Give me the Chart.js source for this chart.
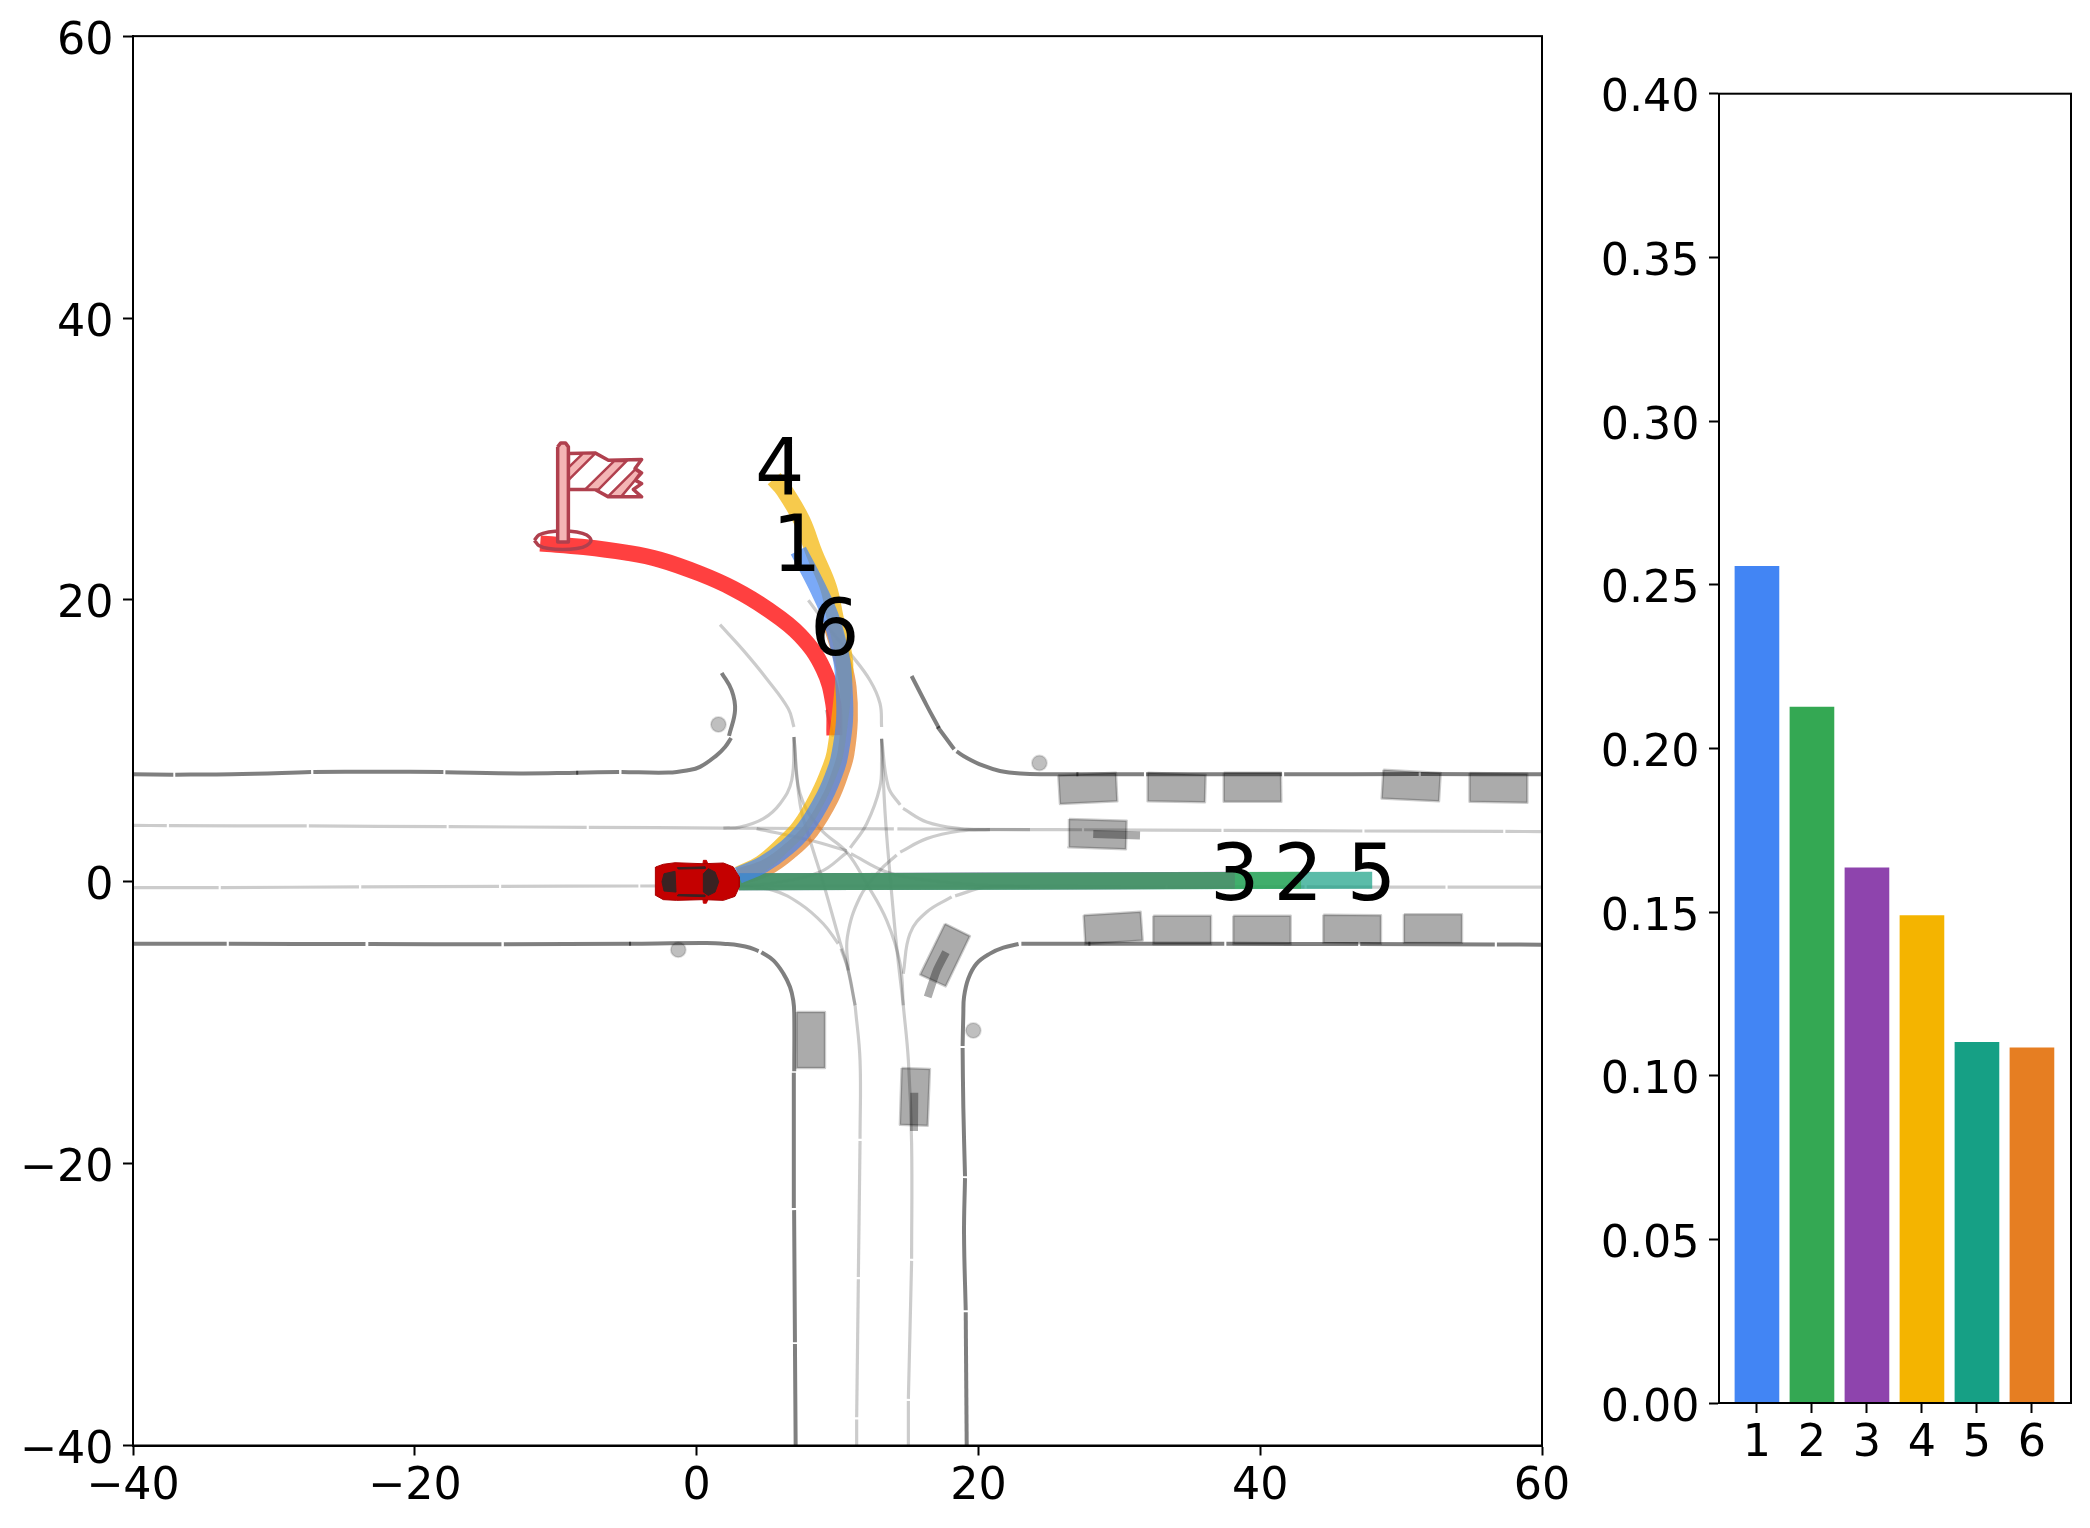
<!DOCTYPE html>
<html>
<head>
<meta charset="utf-8">
<title>Trajectory modes</title>
<script src="https://cdn.jsdelivr.net/npm/chart.js@4"></script>
<style>
    html, body { margin: 0; padding: 0; background: #fff; width: 2090px; height: 1528px; overflow: hidden; }
    canvas { position: absolute; top: 0; }
    #mapChart { left: 0; }
    #barChart { left: 1590px; }
</style>
</head>
<body>
<canvas id="mapChart" width="1590" height="1528"></canvas>
<canvas id="barChart" width="500" height="1528"></canvas>
<script>
// Bar chart values
const modeLabels = [1, 2, 3, 4, 5, 6];
const modeProbs = [0.2556, 0.2126, 0.1635, 0.1489, 0.1102, 0.1085];
const modeColors = ['#4285F4', '#34A853', '#8E44AD', '#F4B400', '#16A085', '#E67E22'];
const probTicks = [0, 0.05, 0.1, 0.15, 0.2, 0.25, 0.3, 0.35, 0.4];
const mapXTicks = [-40, -20, 0, 20, 40, 60];
const mapYTicks = [-40, -20, 0, 20, 40, 60];

// Predicted trajectories, in map units
const traj1 = [[2.96,0.45],[4.74,1.24],[6.39,2.42],[7.69,3.77],[9.11,6.13],[9.94,8.14],[10.18,9.1],[10.5,11.46],[10.46,13.8],[10.3,15.7],[9.59,18.55],[8.57,20.9],[7.22,23.5]];
const traj2 = [[3,0],[20,0.03],[42.9,0.1]];
const traj3 = [[3,0],[20,0.05],[38.2,0.1]];
const traj4 = [[3,0.5],[4.6,1.3],[6.1,2.6],[7.35,3.9],[8.75,6.3],[9.55,8.2],[9.82,9.1],[10.15,11.46],[10.4,13.8],[10.5,15.7],[9.82,18.8],[9.35,20.9],[8.36,23.28],[7.46,25.65],[6.2,27.8],[5.5,28.6]];
const traj5 = [[3,0],[20,0.03],[47.95,0.1]];
const traj6 = [[3,0.35],[4.95,1],[6.7,2.25],[8.1,3.65],[9.5,5.95],[10.3,8],[10.6,9.1],[10.84,11.46],[10.75,13.8],[10.35,15.7],[9.5,18.5]];
const groundTruth = [[-11.1,24],[-8,23.75],[-5,23.35],[-2.6,22.85],[0.24,21.86],[2.6,20.8],[4.97,19.38],[7.34,17.49],[8.99,15.12],[9.7,12.64],[9.78,10.4]];
const labelX = [7.1, 42.7, 38.2, 5.9, 47.9, 9.8];
const labelY = [23.46, 0.14, 0.14, 28.85, 0.14, 17.5];

// Road edges
const roadEdges = [
    [[-40,7.62],[-37.14,7.6]],
    [[-37,7.6],[-33,7.62],[-27.36,7.78]],
    [[-27.2,7.78],[-22.7,7.81],[-17.97,7.78]],
    [[-17.83,7.77],[-12.5,7.69],[-8.4,7.74]],
    [[-8.55,7.74],[-5.5,7.79]],
    [[-5.33,7.79],[-2,7.75],[-0.7,7.9],[0.24,8.15],[1.42,8.97],[2.02,9.56],[2.45,10.2]],
    [[2.3,10.35],[2.73,12.17],[2.49,13.58],[1.78,14.82]],
    [[-40,-4.4],[-33.35,-4.4]],
    [[-33.2,-4.4],[-23.5,-4.42]],
    [[-23.3,-4.42],[-13.85,-4.44]],
    [[-13.68,-4.44],[-4.65,-4.4]],
    [[-4.8,-4.4],[0.71,-4.35],[2.2,-4.42],[3.07,-4.52],[3.79,-4.68],[4.4,-4.92]],
    [[4.6,-5],[5.45,-5.58],[6.16,-6.52],[6.63,-7.47],[6.86,-8.42],[6.93,-9.36],[6.93,-13.45]],
    [[6.9,-13.55],[6.9,-23.15]],
    [[6.92,-23.3],[6.98,-32.68]],
    [[6.98,-32.8],[7.03,-40]],
    [[19.17,-40],[19.1,-30.55]],
    [[19.1,-30.4],[18.98,-25],[19.05,-21.03]],
    [[19.05,-20.9],[18.93,-16],[18.88,-11.8]],
    [[18.88,-11.65],[18.93,-9.36],[18.98,-8.18],[19.28,-6.88],[19.87,-5.81],[20.82,-5.1],[21.77,-4.68],[22.85,-4.42]],
    [[23.05,-4.4],[27.95,-4.4]],
    [[27.8,-4.4],[37.45,-4.4]],
    [[37.6,-4.4],[46.95,-4.42]],
    [[47.1,-4.42],[56.65,-4.45]],
    [[56.8,-4.45],[60,-4.47]],
    [[15.26,14.6],[16.33,12.52],[17.2,10.9]],
    [[17.1,11],[18.28,9.4]],
    [[18.45,9.25],[19.16,8.8],[20.3,8.25],[21.53,7.86],[23,7.68],[25,7.63],[27.1,7.62]],
    [[26.95,7.62],[31.75,7.62]],
    [[31.9,7.62],[41.55,7.62]],
    [[41.7,7.62],[51.25,7.65]],
    [[51.4,7.65],[60,7.62]]
];

// Lane centre lines
const laneLines = [
    [[-40,4],[-37.6,3.98]],
    [[-37.45,3.98],[-27.67,3.96]],
    [[-27.52,3.96],[-17.74,3.91]],
    [[-17.6,3.91],[-7.8,3.86]],
    [[-7.65,3.86],[1.9,3.81],[14,3.75]],
    [[14.25,3.75],[23.66,3.7],[27.35,3.69]],
    [[27.5,3.69],[37.25,3.65]],
    [[37.4,3.65],[47.25,3.6]],
    [[47.4,3.6],[57.25,3.58]],
    [[57.4,3.58],[60,3.55]],
    [[-40,-0.42],[-33.92,-0.42]],
    [[-33.77,-0.41],[-23.96,-0.37]],
    [[-23.8,-0.37],[-14.02,-0.33]],
    [[-13.87,-0.33],[-4.13,-0.3]],
    [[-4,-0.3],[3.08,-0.3],[23.66,-0.33],[33.3,-0.36]],
    [[33.45,-0.36],[43.15,-0.37]],
    [[43.3,-0.37],[53.15,-0.38]],
    [[53.3,-0.38],[60,-0.38]],
    [[1.66,18.24],[3.32,16.42],[4.97,14.41],[6.51,12.28],[6.91,10.98]],
    [[7.93,19.97],[9.7,17.6],[10.9,16.19],[12.3,14.3],[13.02,12.64],[13.13,10.98]],
    [[9.2,12.2],[9.7,10.3]],
    [[6.91,10.27],[6.75,7.2],[5.92,5.54],[4.74,4.48],[3.08,3.88],[1.9,3.81]],
    [[13.13,10.15],[13.13,8.62],[13.01,6.72],[12.07,4.12],[10.9,2.4]],
    [[10.7,2.1],[8.76,0.69],[5.45,-0.09],[3.08,-0.3]],
    [[13.13,10.15],[13.61,6.72],[14.45,5.45]],
    [[14.65,5.2],[16.33,4.24],[18.7,3.77],[20.82,3.7],[23.66,3.7]],
    [[6.91,10.27],[7.34,5.54],[8.05,2.94],[8.87,0.33],[10.18,-4.28],[10.65,-5.81],[11.25,-8.77]],
    [[11.25,-8.77],[11.6,-12.68],[11.6,-18.24]],
    [[11.6,-18.4],[11.48,-28.05]],
    [[11.48,-28.2],[11.36,-37.99]],
    [[11.36,-38.15],[11.36,-40]],
    [[14.67,-8.77],[15.03,-12.68],[15.26,-18.59],[15.26,-26.75]],
    [[15.26,-26.9],[15.15,-31.6],[15.03,-36.69]],
    [[15.03,-36.85],[15.03,-40]],
    [[13.13,10.15],[13.37,5],[13.72,0.57],[14.2,-4.63],[14.67,-8.77]],
    [[4.26,3.77],[8.05,2.94],[10.65,2.2]],
    [[10.95,2],[13.49,0.69],[16.09,0.15],[20.35,-0.26],[23.66,-0.33]],
    [[6.91,10.27],[7.34,6.25],[8.76,3.77],[10.65,2.11],[12.07,-0.14],[13.49,-2.74],[14.44,-5.81],[14.67,-8.77]],
    [[3.08,-0.3],[5.45,-0.61],[7.34,-1.56],[8.99,-2.98],[10.05,-4.4]],
    [[10.25,-4.75],[10.77,-6.29],[11.25,-8.77]],
    [[10.77,-6.29],[10.7,-3.92],[11.6,-1.08],[13.01,0.81],[14.2,1.9]],
    [[14.45,2.1],[16.33,3.06],[18.7,3.6],[20.82,3.7]],
    [[14.67,-6.52],[15.14,-3.69],[16.33,-2.15],[18.1,-1.08]],
    [[18.35,-1],[20.58,-0.37],[23.66,-0.33]]
];

// Surrounding vehicles and their short histories
const vehicles = [
    [[25.67,7.55],[29.76,7.74],[29.86,5.71],[25.79,5.52]],
    [[32.01,7.74],[36.13,7.6],[36.08,5.64],[32.01,5.71]],
    [[37.41,7.74],[41.47,7.74],[41.5,5.68],[37.41,5.68]],
    [[48.74,7.95],[52.81,7.72],[52.69,5.71],[48.62,5.9]],
    [[54.86,7.72],[58.96,7.67],[58.96,5.61],[54.86,5.68]],
    [[26.43,4.45],[30.52,4.33],[30.47,2.3],[26.38,2.44]],
    [[27.47,-2.38],[31.51,-2.12],[31.66,-4.16],[27.59,-4.44]],
    [[32.41,-2.41],[36.51,-2.41],[36.51,-4.44],[32.41,-4.44]],
    [[38.09,-2.41],[42.16,-2.41],[42.16,-4.44],[38.09,-4.44]],
    [[44.48,-2.34],[48.57,-2.38],[48.57,-4.4],[44.48,-4.35]],
    [[50.2,-2.31],[54.32,-2.31],[54.32,-4.35],[50.2,-4.35]],
    [[7.1,-9.25],[9.11,-9.25],[9.11,-13.22],[7.1,-13.22]],
    [[14.55,-13.22],[16.56,-13.29],[16.4,-17.31],[14.43,-17.24]],
    [[17.63,-2.98],[19.4,-3.85],[17.68,-7.42],[15.86,-6.59]]
];
const vehicleTrails = [
    [[28.15,3.38],[31.47,3.28]],
    [[15.45,-14.97],[15.43,-17.69]],
    [[17.7,-4.99],[17.04,-6.29],[16.4,-8.18]]
];
const stopPoints = [[1.55,11.16],[-1.3,-4.82],[19.64,-10.55],[24.33,8.43]];

// Ego car icon
const carBody = [[-2.9,1.05],[-2.36,1.24],[-1.53,1.35],[0.48,1.28],[1.9,1.33],[2.61,1.05],[3.03,0.34],[3.03,-0.37],[2.72,-1.04],[1.9,-1.32],[0.48,-1.27],[-1.41,-1.32],[-2.36,-1.27],[-2.9,-0.97],[-2.95,0.1]];
const carGlass = [
    [[-2.31,0.57],[-1.53,0.74],[-1.46,-0.73],[-2.31,-0.66],[-2.46,0]],
    [[0.48,0.57],[0.83,0.93],[1.31,0.69],[1.57,0],[1.31,-0.73],[0.83,-0.97],[0.48,-0.73]],
    [[-1.37,1],[0.6,1.06],[0.6,0.94],[-1.3,0.9]],
    [[-1.37,-1],[0.6,-1.06],[0.6,-0.94],[-1.3,-0.9]]
];
const carMirrors = [
    [[0.48,1.52],[0.7,1.52],[0.8,1.25],[0.45,1.25]],
    [[0.48,-1.52],[0.7,-1.52],[0.8,-1.25],[0.45,-1.25]]
];

// Goal flag icon
const flagCloth = [[-9.1,30.38],[-7.21,30.43],[-6.26,29.91],[-3.9,29.96],[-4.37,29.32],[-3.9,29.01],[-4.37,28.5],[-3.9,28.25],[-4.49,27.83],[-3.9,27.31],[-6.26,27.31],[-7.21,27.83],[-9.1,27.83]];
const flagStripes = [
    [[-9.1,29.39],[-8.08,30.38],[-7.21,30.38],[-9.1,28.49]],
    [[-7.92,27.83],[-5.84,29.86],[-4.96,29.86],[-6.97,27.83]],
    [[-6.26,27.36],[-4.37,29.25],[-4.01,29.01],[-4.37,28.5],[-5.32,27.36]]
];
const flagPole = [[-9.86,30.86],[-9.64,31.14],[-9.31,31.14],[-9.1,30.86],[-9.1,24.11],[-9.86,24.11]];
const flagBase = [[-11.51,24.23],[-11.2,24.6],[-10.5,24.82],[-9.5,24.89],[-8.5,24.82],[-7.8,24.6],[-7.49,24.23],[-7.8,23.86],[-8.5,23.64],[-9.5,23.57],[-10.5,23.64],[-11.2,23.86]];

const FONT = '"DejaVu Sans"';
const FLAG_RED = '#b0404e';
const FLAG_PINK = '#f4b5b5';

function toXY(points) {
    return points.map(p => ({ x: p[0], y: p[1] }));
}

function line(points, color, width, tension) {
    return {
        data: toXY(points),
        borderColor: color,
        borderWidth: width,
        borderCapStyle: 'butt',
        borderJoinStyle: 'round',
        tension: tension || 0,
        pointRadius: 0,
        fill: false
    };
}

function shape(points, fillColor, edgeColor, width) {
    return {
        data: toXY(points.concat([points[0]])),
        backgroundColor: fillColor,
        borderColor: edgeColor,
        borderWidth: width,
        borderJoinStyle: 'round',
        pointRadius: 0,
        fill: 'shape'
    };
}

function withAlpha(hex, alpha) {
    const n = parseInt(hex.slice(1), 16);
    return `rgba(${n >> 16}, ${(n >> 8) & 255}, ${n & 255}, ${alpha})`;
}

// Paint order: first in the list ends up at the bottom
function buildMapDatasets() {
    const sets = [];
    laneLines.forEach(l => sets.push(line(l, 'rgba(0, 0, 0, 0.2)', 3.2, 0.4)));
    roadEdges.forEach(l => sets.push(line(l, 'rgba(0, 0, 0, 0.5)', 4, 0.4)));
    sets.push({
        data: toXY(stopPoints),
        showLine: false,
        pointRadius: 7.5,
        backgroundColor: 'rgba(0, 0, 0, 0.25)',
        borderColor: 'rgba(0, 0, 0, 0.12)',
        borderWidth: 2
    });
    vehicles.forEach(v => sets.push(shape(v, 'rgba(0, 0, 0, 0.33)', 'rgba(0, 0, 0, 0.2)', 2.5)));
    vehicleTrails.forEach(t => sets.push(line(t, 'rgba(0, 0, 0, 0.33)', 8, 0.2)));
    sets.push(line(groundTruth, 'rgba(255, 0, 0, 0.75)', 16, 0.4));
    [traj6, traj5, traj4, traj3, traj2, traj1].forEach((t, i) => {
        sets.push(line(t, withAlpha(modeColors[5 - i], 0.7), 17, 0.4));
    });
    carMirrors.forEach(m => sets.push(shape(m, '#c40000', '#c40000', 1)));
    sets.push(shape(carBody, '#c40000', '#a80000', 1));
    carGlass.forEach(g => sets.push(shape(g, '#3a2222', '#3a2222', 1)));
    sets.push(line(flagBase.concat([flagBase[0]]), FLAG_RED, 3.5, 0.3));
    sets.push(shape(flagCloth, '#ffffff', FLAG_RED, 3.5));
    flagStripes.forEach(s => sets.push(shape(s, FLAG_PINK, FLAG_RED, 2.5)));
    sets.push(shape(flagPole, FLAG_PINK, FLAG_RED, 3.5));
    sets.forEach((s, i) => { s.order = sets.length - i; });
    return sets;
}

// Top and right spines
const framePlugin = {
    id: 'frame',
    afterDraw(chart) {
        const { ctx, chartArea: a } = chart;
        ctx.save();
        ctx.strokeStyle = '#000';
        ctx.lineWidth = 2;
        ctx.strokeRect(a.left, a.top, a.right - a.left, a.bottom - a.top);
        ctx.restore();
    }
};

// Mode numbers at the end of each trajectory
const modeTextPlugin = {
    id: 'modeText',
    afterDatasetsDraw(chart) {
        const { ctx, scales } = chart;
        ctx.save();
        ctx.fillStyle = '#000';
        ctx.font = `77.8px ${FONT}`;
        ctx.textAlign = 'center';
        ctx.textBaseline = 'middle';
        modeLabels.forEach((m, i) => {
            ctx.fillText(String(m), scales.x.getPixelForValue(labelX[i]), scales.y.getPixelForValue(labelY[i]));
        });
        ctx.restore();
    }
};

function axisStyle(tickValues, format, padding) {
    return {
        type: 'linear',
        offset: false,
        border: { display: true, color: '#000', width: 2 },
        grid: { display: true, offset: false, drawOnChartArea: false, drawTicks: true, tickLength: 10, tickWidth: 2, tickColor: '#000' },
        afterBuildTicks: scale => { scale.ticks = tickValues.map(v => ({ value: v })); },
        ticks: {
            autoSkip: false,
            maxRotation: 0,
            padding: padding,
            color: '#000',
            font: { family: FONT, size: 44.4 },
            callback: format
        }
    };
}

// Canvas 'middle' sits a little high for DejaVu digits, push the y labels down
function nudgeLabels(scale, dy) {
    const compute = scale._computeLabelItems;
    scale._computeLabelItems = function(area) {
        const items = compute.call(this, area);
        items.forEach(item => { item.options.translation[1] += dy; });
        return items;
    };
}

const signed = v => String(v).replace('-', '\u2212');

new Chart(document.getElementById('mapChart'), {
    type: 'line',
    data: { datasets: buildMapDatasets() },
    plugins: [framePlugin, modeTextPlugin],
    options: {
        responsive: false,
        animation: false,
        events: [],
        layout: { padding: { top: 36, right: 48 } },
        plugins: { legend: { display: false }, tooltip: { enabled: false } },
        scales: {
            x: Object.assign(axisStyle(mapXTicks, signed, 5), {
                min: -40, max: 60,
                afterFit: s => { s.height = 82.5; }
            }),
            y: Object.assign(axisStyle(mapYTicks, signed, 9.5), {
                min: -40, max: 60,
                afterFit: s => { s.width = 133; nudgeLabels(s, 3); }
            })
        }
    }
});

new Chart(document.getElementById('barChart'), {
    type: 'bar',
    data: {
        datasets: [{
            data: modeLabels.map((m, i) => ({ x: m, y: modeProbs[i] })),
            backgroundColor: modeColors,
            borderWidth: 0,
            barThickness: 44
        }]
    },
    plugins: [framePlugin],
    options: {
        responsive: false,
        animation: false,
        events: [],
        layout: { padding: { top: 93.7, right: 19 } },
        plugins: { legend: { display: false }, tooltip: { enabled: false } },
        scales: {
            x: Object.assign(axisStyle(modeLabels, v => String(v), 5), {
                min: 0.31, max: 6.71,
                afterFit: s => { s.height = 125; }
            }),
            y: Object.assign(axisStyle(probTicks, v => v.toFixed(2), 9.5), {
                min: 0, max: 0.4,
                afterFit: s => { s.width = 129; nudgeLabels(s, 3); }
            })
        }
    }
});
</script>
</body>
</html>
